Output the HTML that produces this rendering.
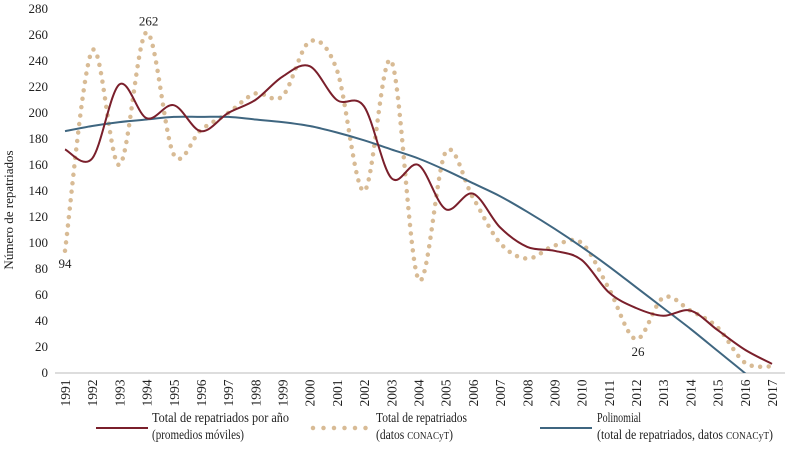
<!DOCTYPE html>
<html><head><meta charset="utf-8">
<style>
body{margin:0;background:#fff;}
svg{display:block;font-family:"Liberation Serif",serif;}
</style></head>
<body>
<svg id="chart" width="791" height="450"></svg>
<script>
const years=[1991,1992,1993,1994,1995,1996,1997,1998,1999,2000,2001,2002,2003,2004,2005,2006,2007,2008,2009,2010,2011,2012,2013,2014,2015,2016,2017];
const conacyt=[94,248,160,262,168,187,200,215,213,255,233,140,240,72,170,135,100,88,98,100,65,26,58,48,35,8,5];
const movingAvg=[172,165,222,196,206,186,200,210,228,236,210,205,150,160,126,138,112,97,94,87,62,50,44,48,33,18,7];
const polyYears=[1991,1992,1993,1994,1995,1996,1997,1998,1999,2000,2001,2002,2003,2004,2005,2006,2007,2008,2009,2010,2011,2012,2013,2014,2015,2016,2017];
const polyVals=[186,190,193,195,197,197,197,195,193,190,185,179,172,165,156,146,136,124,111,97,82,66,50,34,17,0,-18];
const yTicks=[0,20,40,60,80,100,120,140,160,180,200,220,240,260,280];
const annotations=[{year:1991,v:94,label:"94"},{year:1994,v:262,label:"262"},{year:2012,v:26,label:"26"}];

const NS="http://www.w3.org/2000/svg";
const svg=document.getElementById('chart');
const x0=65,x1=772,yBase=373,yTop=9;
const X=yr=>x0+(yr-1991)*(x1-x0)/26;
const Y=v=>yBase-v*(yBase-yTop)/280;
function el(tag,attrs,parent){const e=document.createElementNS(NS,tag);for(const k in attrs)e.setAttribute(k,attrs[k]);(parent||svg).appendChild(e);return e;}
function spline(pts){let d=`M${pts[0][0]},${pts[0][1]}`;for(let i=0;i<pts.length-1;i++){const p0=pts[i-1]||pts[i],p1=pts[i],p2=pts[i+1],p3=pts[i+2]||p2;const c1=[p1[0]+(p2[0]-p0[0])/6,p1[1]+(p2[1]-p0[1])/6],c2=[p2[0]-(p3[0]-p1[0])/6,p2[1]-(p3[1]-p1[1])/6];d+=`C${c1[0]},${c1[1]} ${c2[0]},${c2[1]} ${p2[0]},${p2[1]}`;}return d;}

yTicks.forEach(t=>{const tx=el('text',{x:48,y:Y(t)+4,'text-anchor':'end','font-size':13,fill:'#222'});tx.textContent=t;

});
const ax=el('line',{x1:55,x2:785,y1:yBase,y2:yBase,stroke:'#bbb','stroke-width':1});


const yt=el('text',{transform:'translate(13,210) rotate(-90)','text-anchor':'middle','font-size':13,fill:'#222'});yt.textContent='Número de repatriados';


years.forEach(yr=>{const tx=el('text',{transform:`translate(${X(yr)+5},${393}) rotate(-90)`,'text-anchor':'middle','font-size':13.5,fill:'#222'});tx.textContent=yr;

});

const defs=el('defs',{});const cp=el('clipPath',{id:'clip'},defs);el('rect',{x:0,y:0,width:791,height:yBase},cp);

const dot=el('path',{d:spline(years.map((y,i)=>[X(y),Y(conacyt[i])])),fill:'none',stroke:'#d8bb95','stroke-width':4.5,'stroke-linecap':'round','stroke-dasharray':'0 8.5'});


const poly=el('path',{d:spline(polyYears.map((y,i)=>[X(y),Y(polyVals[i])])),fill:'none',stroke:'#3f6680','stroke-width':2,'clip-path':'url(#clip)'});


const ma=el('path',{d:spline(years.map((y,i)=>[X(y),Y(movingAvg[i])])),fill:'none',stroke:'#7a1f2b','stroke-width':2});



annotations.forEach((a,i)=>{const tx=el('text',{x:X(a.year)+(i==0?0:2),y:i==1?Y(a.v)-7:Y(a.v)+17,'text-anchor':'middle','font-size':13,fill:'#222'});tx.textContent=a.label;

});

function legend(lx,lw,tx,kind,l1,w1,l2,w2,name){const g=el('g',{});


if(kind==='dot')el('line',{x1:lx,x2:lx+lw,y1:428,y2:428,stroke:'#d8bb95','stroke-width':4.5,'stroke-linecap':'round','stroke-dasharray':'0 10.5'},g);
else el('line',{x1:lx,x2:lx+lw,y1:428,y2:428,stroke:kind,'stroke-width':2},g);
const t1=el('text',{x:tx,y:422,'font-size':14,fill:'#222',textLength:w1,lengthAdjust:'spacingAndGlyphs'},g);t1.textContent=l1;
const t2=el('text',{x:tx,y:439,'font-size':14,fill:'#222',textLength:w2,lengthAdjust:'spacingAndGlyphs'},g);t2.innerHTML=l2;}
legend(96,52,152,'#7a1f2b','Total de repatriados por año',137,'(promedios móviles)',92,'legend-moving-average');
legend(313,53,376,'dot','Total de repatriados',91,'(datos <tspan font-size="11">CONACyT</tspan>)',77,'legend-conacyt');
legend(540,52,597,'#3f6680','Polinomial',44,'(total de repatriados, datos <tspan font-size="11">CONACyT</tspan>)',176,'legend-polynomial');
</script>
</body></html>
